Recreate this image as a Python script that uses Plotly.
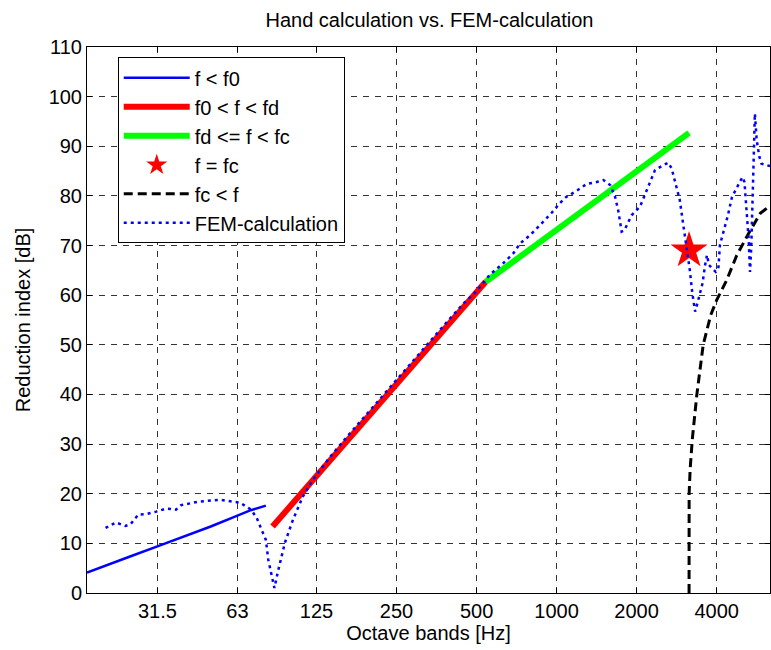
import numpy as np
import plotly.graph_objects as go

# ---- data ----
f_low = [17.12, 20, 25, 31.5, 40, 50, 63, 70, 80.6]
r_low = [4.1, 5.4, 7.4, 9.4, 11.5, 13.4, 15.6, 16.6, 17.6]

f_mid = [85.4, 100, 125, 160, 200, 250, 315, 400, 500, 541]
r_mid = [13.4, 17.6, 23.6, 30.2, 36.1, 42.1, 48.2, 54.6, 60.6, 62.7]

f_high = [541, 630, 800, 1000, 1250, 1600, 2000, 2500, 3150]
r_high = [62.7, 65.3, 69.4, 73.2, 77.0, 81.2, 85.0, 88.8, 92.7]

f_c = [3150]
r_c = [69.0]

f_above = [3150, 3152, 3180, 3240, 3370, 3560, 3800, 4000, 4360, 4760, 5220, 5840, 6350]
r_above = [0, 20, 25, 31, 40, 50, 56, 59, 63, 68, 72, 76.5, 78]

f_fem = [20.1, 22.0, 23.9, 25.0, 26.7, 28.6, 31.2, 34.0, 37.0, 38.7, 45.0, 54.2, 57.0,
         64.5, 70.9, 74.5, 78.0, 80.6, 82.3, 86.8, 89.2, 95, 102, 111, 121, 140, 160,
         200, 250, 315, 400, 450, 493, 529, 560, 629, 687, 728, 795, 865, 955, 1027,
         1087, 1188, 1297, 1414, 1500, 1590, 1660, 1705, 1757, 1800, 1915, 2058, 2180,
         2346, 2484, 2630, 2710, 2783, 2906, 2990, 3080, 3170, 3240, 3320, 3400, 3540,
         3620, 3680, 3740, 3970, 4060, 4115, 4260, 4410, 4570, 4740, 5000, 5090, 5210,
         5280, 5340, 5400, 5490, 5570, 5660, 5790, 5900, 6350]
r_fem = [13.1, 14.2, 13.5, 13.9, 15.8, 15.9, 16.4, 17.0, 16.8, 17.7, 18.4, 18.8, 18.6,
         18.2, 16.8, 15.1, 12.5, 10.7, 6.7, 1.0, 4.0, 10.1, 14.8, 19.4, 22.8, 27.3, 31.0,
         37.0, 43.0, 49.2, 55.5, 58.5, 60.5, 62.4, 64.1, 66.4, 68.4, 70.4, 72.1, 74.1, 76.5, 78.5,
         79.8, 81.0, 82.4, 82.8, 83.2, 82.2, 79.8, 77.1, 72.8, 73.1, 76.1, 77.8, 81.2,
         85.2, 86.0, 86.7, 85.5, 83.2, 79.2, 74.5, 69.8, 65.1, 60.4, 56.7, 58.7, 62.4,
         66.1, 68.1, 66.1, 64.7, 65.4, 70.1, 73.1, 76.1, 79.8, 81.5, 83.8, 82.8, 74.5,
         71.1, 64.7, 69.8, 83.8, 96.6, 91.2, 87.9, 86.5, 86.0]

tick_vals = [31.5, 63, 125, 250, 500, 1000, 2000, 4000]
tick_text = ["31.5", "63", "125", "250", "500", "1000", "2000", "4000"]

FONT = "Liberation Sans, Arial, sans-serif"
FS = 20

fig = go.Figure()
fig.add_trace(go.Scatter(x=f_low, y=r_low, mode="lines", name="f < f0", legendgroup="a",
                         line=dict(color="#0000FF", width=2.5)))
fig.add_trace(go.Scatter(x=f_mid, y=r_mid, mode="lines", name="f0 < f < fd", legendgroup="b",
                         line=dict(color="#FF0000", width=6)))
fig.add_trace(go.Scatter(x=f_high, y=r_high, mode="lines", name="fd <= f < fc", legendgroup="c",
                         line=dict(color="#00FF00", width=6)))
fig.add_trace(go.Scatter(x=f_c, y=r_c, mode="markers", name="f = fc", legendgroup="d",
                         marker=dict(symbol="star", size=28, color="#FF0000", line=dict(width=0))))
fig.add_trace(go.Scatter(x=f_above, y=r_above, mode="lines", name="fc < f", legendgroup="e",
                         line=dict(color="#000000", width=3, dash="9px,5px")))
fig.add_trace(go.Scatter(x=f_fem, y=r_fem, mode="lines", name="FEM-calculation", legendgroup="f",
                         line=dict(color="#0000FF", width=2.5, dash="3px,4px")))

axis_common = dict(
    showline=True, linecolor="black", linewidth=1, mirror="allticks",
    ticks="inside", ticklen=5, tickcolor="black", tickwidth=1,
    showgrid=True, gridcolor="#333333", gridwidth=1, griddash="6px,6px",
    zeroline=False, tickfont=dict(family=FONT, size=FS, color="black"),
)

fig.update_xaxes(type="log", range=[np.log10(17.12), np.log10(6350)],
                 tickvals=tick_vals, ticktext=tick_text,
                 title=dict(text="Octave bands [Hz]", font=dict(family=FONT, size=FS, color="black"), standoff=2),
                 **axis_common)
fig.update_yaxes(range=[0, 110], tickvals=list(range(0, 111, 10)),
                 title=dict(text="Reduction index [dB]", font=dict(family=FONT, size=FS, color="black"), standoff=12),
                 **axis_common)

fig.update_layout(
    width=771, height=650,
    margin=dict(l=87, r=1, t=47, b=57),
    paper_bgcolor="white", plot_bgcolor="white",
    title=dict(text="Hand calculation vs. FEM-calculation", x=0.557, xanchor="center",
               y=1 - 20 / 650, yanchor="middle",
               font=dict(family=FONT, size=FS, color="black")),
    legend=dict(x=0.045, y=0.981, xanchor="left", yanchor="top",
                bgcolor="white", bordercolor="black", borderwidth=1,
                font=dict(family=FONT, size=FS, color="black"),
                tracegroupgap=0, itemwidth=66),
    showlegend=True,
)

fig.write_html("out.html")
